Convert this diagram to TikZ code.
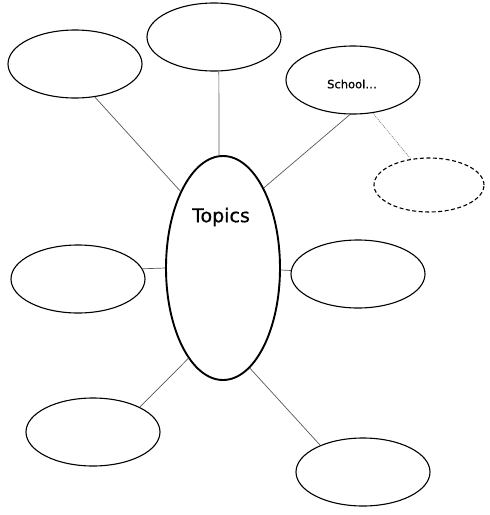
\documentclass[tikz,border=0pt]{standalone}
\usepackage{fontspec}
\setmainfont{DejaVu Sans}
\newfontfamily\heavyish[FakeBold=0.7]{DejaVu Sans}
\usetikzlibrary{shapes.geometric}
\tikzset{
  bubble/.style={ellipse, draw=black, line width=1.1pt, minimum width=134pt, minimum height=68pt, inner sep=0pt},
  hub/.style={ellipse, draw=black, line width=1.9pt, minimum width=114pt, minimum height=224pt, inner sep=0pt},
  spare/.style={ellipse, draw=black, line width=1.1pt, dash pattern=on 4pt off 2.5pt, minimum width=110pt, minimum height=54pt, inner sep=0pt},
  link/.style={draw=black!65, line width=0.7pt},
  hint/.style={draw=black!55, line width=0.6pt, dash pattern=on 1pt off 1pt},
  lbl/.style={inner sep=0pt, text=black}
}
\begin{document}
\begin{tikzpicture}[x=1pt,y=-1pt]
\useasboundingbox[fill=white] (0,0) rectangle (490,515);
\node[hub] (c) at (223,268) {};
\node[lbl, font=\heavyish\fontsize{19}{22}\selectfont] (ct) at (221,217) {Topics};
\node[bubble] (tl) at (75,64) {};
\node[bubble] (tm) at (214,37) {};
\node[bubble] (sc) at (353,80) {};
\node[lbl, font=\heavyish\fontsize{11.5}{13}\selectfont] (st) at (352,84) {School…};
\node[spare] (ds) at (429,185) {};
\node[bubble] (ml) at (78,279) {};
\node[bubble] (mr) at (358,274) {};
\node[bubble] (bl) at (93,432) {};
\node[bubble] (br) at (363,472) {};
\draw[link] (tl.-59) -- (c.119);
\draw[link] (tm.-82) -- (c.92);
\draw[link] (sc.-95) -- (c.63);
\draw[hint] (sc.-59) -- (ds.125);
\draw[link] (ml.9) -- (c.180);
\draw[link] (mr.177) -- (c.358);
\draw[link] (bl.28) -- (c.249);
\draw[link] (br.148) -- (c.285);
\end{tikzpicture}
\end{document}
